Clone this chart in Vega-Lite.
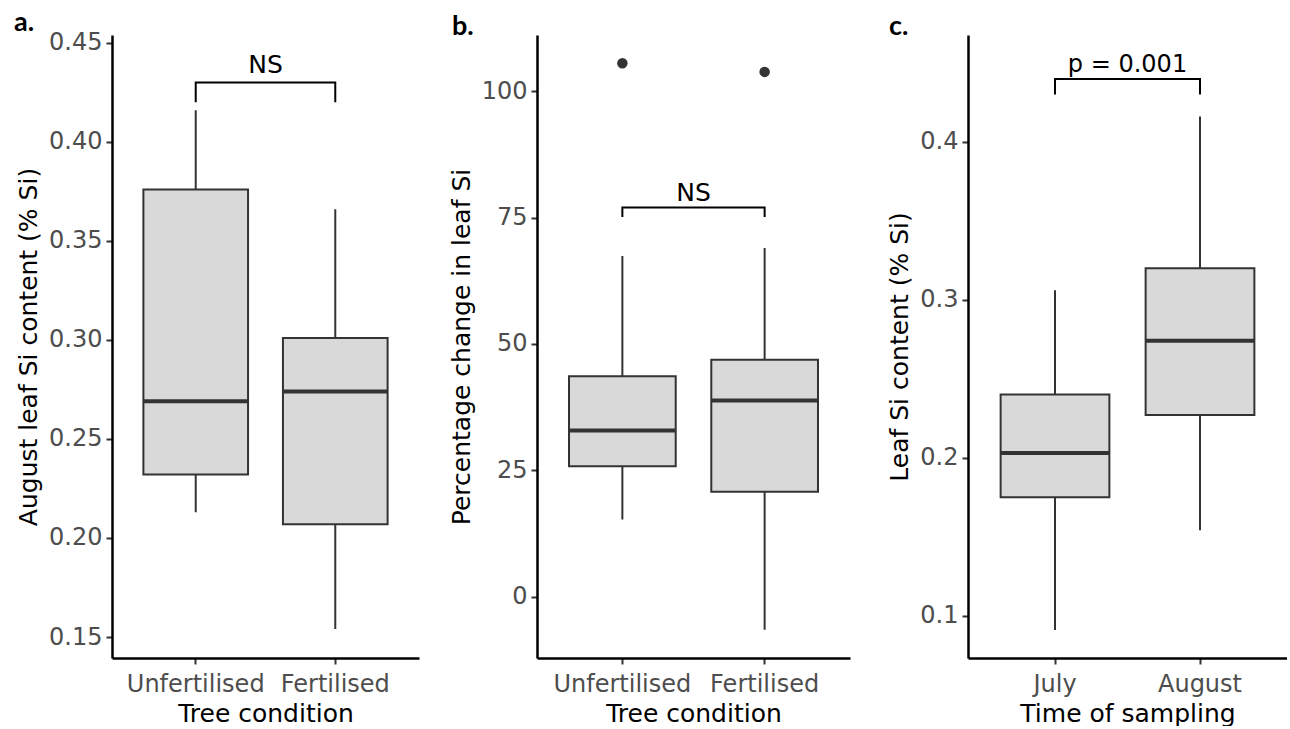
{
  "$schema": "https://vega.github.io/schema/vega-lite/v6.json",
  "background": "white",
  "padding": {"left": 14, "top": 8, "right": 0, "bottom": 0},
  "bounds": "flush",
  "spacing": 118,
  "config": {
    "font": "DejaVu Sans",
    "view": {"stroke": null},
    "axis": {"grid": false, "domainColor": "#000000", "domainWidth": 2.5, "tickColor": "#333333", "tickWidth": 2, "tickSize": 6, "labelColor": "#4D4D4D", "labelFont": "DejaVu Sans", "labelFontSize": 24, "labelPadding": 4, "titleFont": "DejaVu Sans", "titleFontSize": 25, "titleFontWeight": "normal", "titleColor": "#000000", "titlePadding": 7},
    "axisX": {"labelAngle": 0, "labelPadding": 8, "titlePadding": 5},
    "title": {"font": "Lato", "fontWeight": "bold", "fontSize": 27, "color": "#000000", "anchor": "start", "frame": "group", "offset": -6}
  },
  "datasets": {
    "boxA": [
      {"cond": "Unfertilised", "lower": 0.213, "q1": 0.232, "median": 0.269, "q3": 0.376, "upper": 0.416},
      {"cond": "Fertilised", "lower": 0.154, "q1": 0.207, "median": 0.274, "q3": 0.301, "upper": 0.366}
    ],
    "brA": [
      {"cond": "Unfertilised", "y": 0.420, "o": 1},
      {"cond": "Unfertilised", "y": 0.430, "o": 2},
      {"cond": "Fertilised", "y": 0.430, "o": 3},
      {"cond": "Fertilised", "y": 0.420, "o": 4}
    ],
    "labA": [{"cond": "Unfertilised", "y": 0.430, "label": "NS"}],
    "boxB": [
      {"cond": "Unfertilised", "lower": 15.3, "q1": 25.8, "median": 32.9, "q3": 43.6, "upper": 67.4},
      {"cond": "Fertilised", "lower": -6.5, "q1": 20.8, "median": 38.8, "q3": 46.9, "upper": 69.0}
    ],
    "outB": [
      {"cond": "Unfertilised", "value": 105.5},
      {"cond": "Fertilised", "value": 103.8}
    ],
    "brB": [
      {"cond": "Unfertilised", "y": 75.1, "o": 1},
      {"cond": "Unfertilised", "y": 77.0, "o": 2},
      {"cond": "Fertilised", "y": 77.0, "o": 3},
      {"cond": "Fertilised", "y": 75.1, "o": 4}
    ],
    "labB": [{"cond": "Unfertilised", "y": 77.0, "label": "NS"}],
    "boxC": [
      {"cond": "July", "lower": 0.091, "q1": 0.175, "median": 0.203, "q3": 0.240, "upper": 0.306},
      {"cond": "August", "lower": 0.154, "q1": 0.227, "median": 0.274, "q3": 0.320, "upper": 0.416}
    ],
    "brC": [
      {"cond": "July", "y": 0.430, "o": 1},
      {"cond": "July", "y": 0.4397, "o": 2},
      {"cond": "August", "y": 0.4397, "o": 3},
      {"cond": "August", "y": 0.430, "o": 4}
    ],
    "labC": [{"cond": "July", "y": 0.4397, "label": "p = 0.001"}]
  },
  "hconcat": [
    {
      "width": 307, "height": 623,
      "title": {"text": "a.", "dx": -98},
      "layer": [
        {"data": {"name": "boxA"}, "mark": {"type": "rule", "color": "#333333", "strokeWidth": 2},
         "encoding": {
           "x": {"field": "cond", "type": "nominal", "title": "Tree condition", "scale": {"domain": ["Unfertilised", "Fertilised"], "paddingInner": 0.25, "paddingOuter": 0.225}},
           "y": {"field": "lower", "type": "quantitative", "title": "August leaf Si content (% Si)", "scale": {"domain": [0.1394, 0.454], "nice": false, "zero": false}, "axis": {"values": [0.15, 0.2, 0.25, 0.3, 0.35, 0.4, 0.45], "format": ".2f"}},
           "y2": {"field": "upper"}}},
        {"data": {"name": "boxA"}, "mark": {"type": "bar", "fill": "#D9D9D9", "stroke": "#333333", "strokeWidth": 2},
         "encoding": {"x": {"field": "cond", "type": "nominal", "title": "Tree condition"}, "y": {"field": "q1", "type": "quantitative", "title": "August leaf Si content (% Si)"}, "y2": {"field": "q3"}}},
        {"data": {"name": "boxA"}, "mark": {"type": "tick", "color": "#333333", "thickness": 4, "size": 105, "opacity": 1},
         "encoding": {"x": {"field": "cond", "type": "nominal", "title": "Tree condition"}, "y": {"field": "median", "type": "quantitative", "title": "August leaf Si content (% Si)"}}},
        {"data": {"name": "brA"}, "mark": {"type": "line", "color": "#000000", "strokeWidth": 2},
         "encoding": {"x": {"field": "cond", "type": "nominal", "title": "Tree condition"}, "y": {"field": "y", "type": "quantitative", "title": "August leaf Si content (% Si)"}, "order": {"field": "o"}}},
        {"data": {"name": "labA"}, "mark": {"type": "text", "font": "DejaVu Sans", "fontSize": 25, "color": "#000000", "baseline": "alphabetic", "dy": -10},
         "encoding": {"x": {"field": "cond", "type": "nominal", "bandPosition": 1.1667, "title": "Tree condition"}, "y": {"field": "y", "type": "quantitative", "title": "August leaf Si content (% Si)"}, "text": {"field": "label"}}}
      ]
    },
    {
      "width": 313, "height": 623,
      "title": {"text": "b.", "dx": -85},
      "layer": [
        {"data": {"name": "boxB"}, "mark": {"type": "rule", "color": "#333333", "strokeWidth": 2},
         "encoding": {
           "x": {"field": "cond", "type": "nominal", "title": "Tree condition", "scale": {"domain": ["Unfertilised", "Fertilised"], "paddingInner": 0.25, "paddingOuter": 0.225}},
           "y": {"field": "lower", "type": "quantitative", "title": "Percentage change in leaf Si", "scale": {"domain": [-12.1, 111.1], "nice": false, "zero": false}, "axis": {"values": [0, 25, 50, 75, 100], "format": "d"}},
           "y2": {"field": "upper"}}},
        {"data": {"name": "boxB"}, "mark": {"type": "bar", "fill": "#D9D9D9", "stroke": "#333333", "strokeWidth": 2},
         "encoding": {"x": {"field": "cond", "type": "nominal", "title": "Tree condition"}, "y": {"field": "q1", "type": "quantitative", "title": "Percentage change in leaf Si"}, "y2": {"field": "q3"}}},
        {"data": {"name": "boxB"}, "mark": {"type": "tick", "color": "#333333", "thickness": 4, "size": 107, "opacity": 1},
         "encoding": {"x": {"field": "cond", "type": "nominal", "title": "Tree condition"}, "y": {"field": "median", "type": "quantitative", "title": "Percentage change in leaf Si"}}},
        {"data": {"name": "outB"}, "mark": {"type": "point", "filled": true, "color": "#333333", "size": 110, "opacity": 1},
         "encoding": {"x": {"field": "cond", "type": "nominal", "title": "Tree condition"}, "y": {"field": "value", "type": "quantitative", "title": "Percentage change in leaf Si"}}},
        {"data": {"name": "brB"}, "mark": {"type": "line", "color": "#000000", "strokeWidth": 2},
         "encoding": {"x": {"field": "cond", "type": "nominal", "title": "Tree condition"}, "y": {"field": "y", "type": "quantitative", "title": "Percentage change in leaf Si"}, "order": {"field": "o"}}},
        {"data": {"name": "labB"}, "mark": {"type": "text", "font": "DejaVu Sans", "fontSize": 25, "color": "#000000", "baseline": "alphabetic", "dy": -6},
         "encoding": {"x": {"field": "cond", "type": "nominal", "bandPosition": 1.1667, "title": "Tree condition"}, "y": {"field": "y", "type": "quantitative", "title": "Percentage change in leaf Si"}, "text": {"field": "label"}}}
      ]
    },
    {
      "width": 319, "height": 623,
      "title": {"text": "c.", "dx": -79},
      "layer": [
        {"data": {"name": "boxC"}, "mark": {"type": "rule", "color": "#333333", "strokeWidth": 2},
         "encoding": {
           "x": {"field": "cond", "type": "nominal", "title": "Time of sampling", "scale": {"domain": ["July", "August"], "paddingInner": 0.25, "paddingOuter": 0.225}},
           "y": {"field": "lower", "type": "quantitative", "title": "Leaf Si content (% Si)", "scale": {"domain": [0.0732, 0.4676], "nice": false, "zero": false}, "axis": {"values": [0.1, 0.2, 0.3, 0.4], "format": ".1f"}},
           "y2": {"field": "upper"}}},
        {"data": {"name": "boxC"}, "mark": {"type": "bar", "fill": "#D9D9D9", "stroke": "#333333", "strokeWidth": 2},
         "encoding": {"x": {"field": "cond", "type": "nominal", "title": "Time of sampling"}, "y": {"field": "q1", "type": "quantitative", "title": "Leaf Si content (% Si)"}, "y2": {"field": "q3"}}},
        {"data": {"name": "boxC"}, "mark": {"type": "tick", "color": "#333333", "thickness": 4, "size": 109, "opacity": 1},
         "encoding": {"x": {"field": "cond", "type": "nominal", "title": "Time of sampling"}, "y": {"field": "median", "type": "quantitative", "title": "Leaf Si content (% Si)"}}},
        {"data": {"name": "brC"}, "mark": {"type": "line", "color": "#000000", "strokeWidth": 2},
         "encoding": {"x": {"field": "cond", "type": "nominal", "title": "Time of sampling"}, "y": {"field": "y", "type": "quantitative", "title": "Leaf Si content (% Si)"}, "order": {"field": "o"}}},
        {"data": {"name": "labC"}, "mark": {"type": "text", "font": "DejaVu Sans", "fontSize": 24, "color": "#000000", "baseline": "alphabetic", "dy": -7},
         "encoding": {"x": {"field": "cond", "type": "nominal", "bandPosition": 1.1667, "title": "Time of sampling"}, "y": {"field": "y", "type": "quantitative", "title": "Leaf Si content (% Si)"}, "text": {"field": "label"}}}
      ]
    }
  ]
}
